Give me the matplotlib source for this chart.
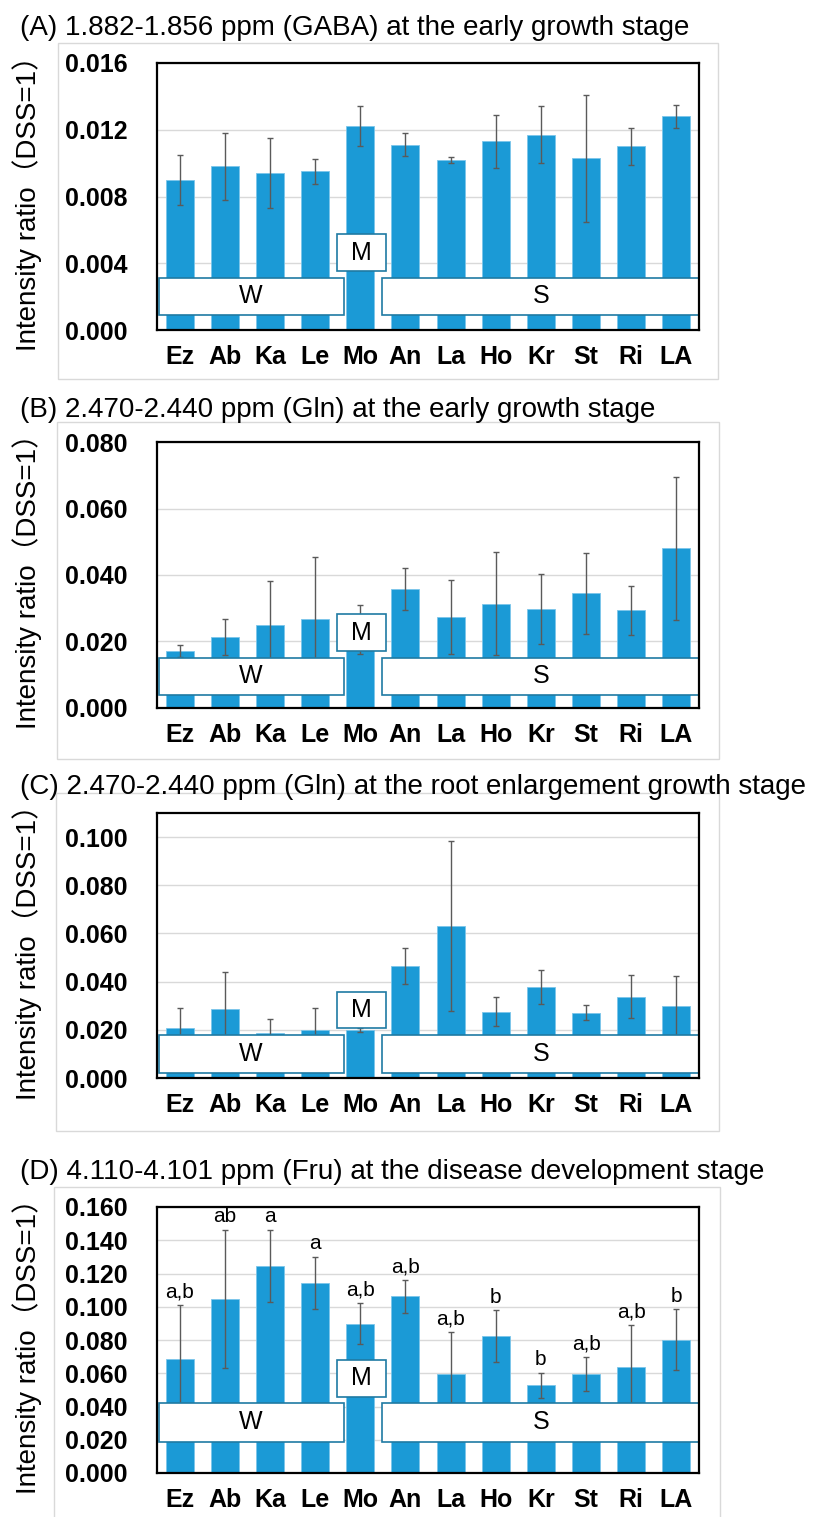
import numpy as np
import matplotlib.pyplot as plt
from matplotlib.patches import Rectangle

# DATA
cultivars = ['Ez', 'Ab', 'Ka', 'Le', 'Mo', 'An', 'La', 'Ho', 'Kr', 'St', 'Ri', 'LA']

gaba_early = [0.0090, 0.0098, 0.0094, 0.0095, 0.0122, 0.0111, 0.0102, 0.0113, 0.0117, 0.0103, 0.0110, 0.0128]
gaba_early_err = [0.0015, 0.0020, 0.0021, 0.00075, 0.0012, 0.0007, 0.00018, 0.0016, 0.0017, 0.0038, 0.0011, 0.0007]

gln_early = [0.0171, 0.0213, 0.0250, 0.0267, 0.0235, 0.0359, 0.0273, 0.0314, 0.0297, 0.0345, 0.0294, 0.0480]
gln_early_err = [0.0017, 0.0054, 0.0132, 0.0186, 0.0074, 0.0063, 0.0112, 0.0156, 0.0106, 0.0122, 0.0073, 0.0215]

gln_root = [0.0208, 0.0285, 0.0185, 0.0200, 0.0199, 0.0464, 0.0631, 0.0275, 0.0379, 0.0271, 0.0338, 0.0299]
gln_root_err = [0.0084, 0.0155, 0.0061, 0.0092, 0.0008, 0.0075, 0.0352, 0.0061, 0.0071, 0.0032, 0.0091, 0.0126]

fru_disease = [0.0686, 0.1048, 0.1246, 0.1144, 0.0898, 0.1062, 0.0598, 0.0822, 0.0528, 0.0596, 0.0638, 0.0802]
fru_disease_err = [0.0326, 0.0416, 0.0218, 0.0156, 0.0122, 0.0100, 0.0250, 0.0156, 0.0076, 0.0102, 0.0254, 0.0182]
fru_letters = ['a,b', 'ab', 'a', 'a', 'a,b', 'a,b', 'a,b', 'b', 'b', 'a,b', 'a,b', 'b']

titles = ['(A) 1.882-1.856 ppm (GABA) at the early growth stage',
          '(B) 2.470-2.440 ppm (Gln) at the early growth stage',
          '(C) 2.470-2.440 ppm (Gln) at the root enlargement growth stage',
          '(D) 4.110-4.101 ppm (Fru) at the disease development stage']

# LAYOUT (pixels)
W, H = 813, 1517
FONT = 'Liberation Sans'
BAR_COLOR = '#1B9AD6'
BOX_EDGE = '#1F7AA3'

panels = [
    dict(vals=gaba_early, err=gaba_early_err, ymax=0.016, step=0.004, top=63, bot=330,
         frame=(58, 43, 718, 379), title_y=28, wbox=(0.056, 0.195), mbox=(0.22, 0.36)),
    dict(vals=gln_early, err=gln_early_err, ymax=0.080, step=0.020, top=442, bot=708,
         frame=(57, 422, 719, 759), title_y=410, wbox=(0.049, 0.188), mbox=(0.214, 0.353)),
    dict(vals=gln_root, err=gln_root_err, ymax=0.110, step=0.020, top=813, bot=1078,
         frame=(56, 793, 719, 1131), title_y=787, wbox=(0.019, 0.162), mbox=(0.189, 0.325)),
    dict(vals=fru_disease, err=fru_disease_err, ymax=0.160, step=0.020, top=1207, bot=1473,
         frame=(54, 1187, 720, 1530), title_y=1172, wbox=(0.117, 0.263), mbox=(0.286, 0.425),
         letters=fru_letters),
]

fig = plt.figure(figsize=(W / 100, H / 100), dpi=100)
fig.patch.set_facecolor('white')

left, right = 157, 699
x = np.arange(len(cultivars))

for i, p in enumerate(panels):
    # light outer chart frame
    fx0, fy0, fx1, fy1 = p['frame']
    fig.patches.append(Rectangle((fx0 / W, 1 - fy1 / H), (fx1 - fx0) / W, (fy1 - fy0) / H,
                                 transform=fig.transFigure, fill=False,
                                 edgecolor='#d9d9d9', lw=1, zorder=0))

    ax = fig.add_axes([left / W, 1 - p['bot'] / H, (right - left) / W, (p['bot'] - p['top']) / H])
    ax.bar(x, p['vals'], width=0.62, color=BAR_COLOR, edgecolor='#7cc6ea', lw=0.6, zorder=2)
    ax.errorbar(x, p['vals'], yerr=p['err'], fmt='none', ecolor='#5a5a5a',
                elinewidth=1, capsize=2.5, capthick=1, zorder=3)

    ax.set_xlim(-0.5, len(cultivars) - 0.5)
    ax.set_ylim(0, p['ymax'])
    ticks = np.arange(0, p['ymax'] + 1e-9, p['step'])
    ax.set_yticks(ticks)
    ax.set_yticklabels([f'{t:.3f}' for t in ticks], fontfamily=FONT, fontweight='bold', fontsize=18)
    ax.set_xticks(x)
    ax.set_xticklabels(cultivars, fontfamily=FONT, fontweight='bold', fontsize=18)
    ax.tick_params(length=0)
    ax.tick_params(axis='x', pad=11)
    ax.tick_params(axis='y', pad=21)
    ax.yaxis.grid(True, color='#d9d9d9', lw=1, zorder=0)
    ax.set_axisbelow(True)
    for s in ax.spines.values():
        s.set_color('black')
        s.set_linewidth(1.6)
        s.set_zorder(5)

    # group boxes
    wb0, wb1 = p['wbox']
    mb0, mb1 = p['mbox']
    for (bx0, bx1, by0, by1, lab) in [(-0.46, 3.63, wb0, wb1, 'W'),
                                      (4.49, 11.5, wb0, wb1, 'S'),
                                      (3.48, 4.56, mb0, mb1, 'M')]:
        tr = ax.get_xaxis_transform()
        ax.add_patch(Rectangle((bx0, by0), bx1 - bx0, by1 - by0, transform=tr,
                               facecolor='white', edgecolor=BOX_EDGE, lw=1.2, zorder=4))
        ax.text((bx0 + bx1) / 2, (by0 + by1) / 2, lab, transform=tr, ha='center', va='center',
                fontfamily=FONT, fontsize=18, zorder=6)

    if 'letters' in p:
        for xi, v, e, lab in zip(x, p['vals'], p['err'], p['letters']):
            ax.annotate(lab, (xi, v + e), xytext=(0, 2.5), textcoords='offset points',
                        ha='center', va='bottom', fontfamily=FONT, fontsize=15, zorder=6)

    fig.text(20 / W, 1 - p['title_y'] / H, titles[i], ha='left', va='center',
             fontfamily=FONT, fontsize=20)
    fig.text(27 / W, 1 - (p['top'] + p['bot']) / 2 / H, 'Intensity ratio（DSS=1）',
             rotation=90, ha='center', va='center',
             fontfamily=[FONT, 'Noto Sans CJK JP'], fontsize=20)

fig.savefig('out.png', dpi=100)
